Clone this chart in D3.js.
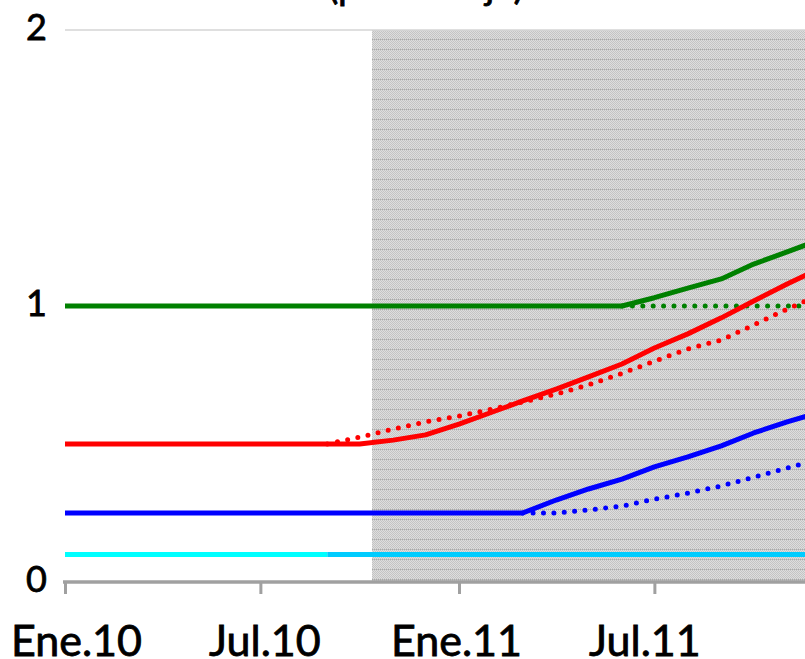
<!DOCTYPE html>
<html>
<head>
<meta charset="utf-8">
<script src="https://cdn.jsdelivr.net/npm/d3@7"></script>
<style>
  body { margin: 0; background: #fff; }
  svg { display: block; font-family: Lato, "Liberation Sans", Arial, sans-serif; }
</style>
</head>
<body>
<div id="chart"></div>
<script>
var w = 805, h = 659;

// Months from Ene.10 (index 0) onward
var months = d3.range(0, 24).map(function(i) { return new Date(2010, i, 1); });
var tickLabels = ["Ene.10", "Jul.10", "Ene.11", "Jul.11"];
var yTicks = [0, 1, 2];

// Series values (percent), one value per month, null = not drawn
var greenSolid = [1, 1, 1, 1, 1, 1, 1, 1, 1, 1, 1, 1, 1, 1, 1, 1, 1, 1,
  1.03, 1.065, 1.098, 1.152, 1.196, 1.24];
var greenDotted = [null, null, null, null, null, null, null, null, null, null, null, null,
  null, null, null, null, null, 1, 1, 1, 1, 1, 1, 1];
var redSolid = [0.5, 0.5, 0.5, 0.5, 0.5, 0.5, 0.5, 0.5, 0.5, 0.5, 0.514, 0.533,
  0.572, 0.616, 0.656, 0.699, 0.743, 0.79, 0.848, 0.899, 0.957, 1.018, 1.08, 1.135];
var redDotted = [null, null, null, null, null, null, null, null, 0.5, 0.525, 0.554, 0.58,
  0.601, 0.627, 0.652, 0.681, 0.714, 0.756, 0.8, 0.844, 0.877, 0.931, 0.989, 1.04];
var blueSolid = [0.25, 0.25, 0.25, 0.25, 0.25, 0.25, 0.25, 0.25, 0.25, 0.25, 0.25, 0.25,
  0.25, 0.25, 0.25, 0.297, 0.337, 0.373, 0.417, 0.453, 0.493, 0.54, 0.58, 0.615];
var blueDotted = [null, null, null, null, null, null, null, null, null, null, null, null,
  null, null, 0.25, 0.25, 0.261, 0.275, 0.3, 0.322, 0.348, 0.38, 0.413, 0.445];
var cyanEarly = [0.1, 0.1, 0.1, 0.1, 0.1, 0.1, 0.1, 0.1, 0.1, null, null, null,
  null, null, null, null, null, null, null, null, null, null, null, null];
var cyanLate = [null, null, null, null, null, null, null, null, 0.1, 0.1, 0.1, 0.1,
  0.1, 0.1, 0.1, 0.1, 0.1, 0.1, 0.1, 0.1, 0.1, 0.1, 0.1, 0.1];

// Start of the shaded (projection) period
var shadeStart = new Date(2010, 9, 12);

var xScale = d3.scaleTime()
  .domain([new Date(2010, 0, 1), new Date(2012, 0, 1)])
  .range([65, 853]);

var yScale = d3.scaleLinear()
  .domain([0, 2])
  .range([582, 30]);

var svg = d3.select("#chart")
  .append("svg")
  .attr("width", w)
  .attr("height", h);

// Dithered grey pattern for the shaded area
var defs = svg.append("defs");
var pat = defs.append("pattern")
  .attr("id", "shade")
  .attr("patternUnits", "userSpaceOnUse")
  .attr("width", 2)
  .attr("height", 10)
  .attr("y", 30);
pat.append("rect").attr("width", 2).attr("height", 10).attr("fill", "#dedede");
d3.range(0, 10).forEach(function(r) {
  pat.append("rect")
    .attr("x", r % 2).attr("y", r)
    .attr("width", 1).attr("height", 1)
    .attr("fill", "#c4c4c4");
});
pat.append("rect").attr("x", 0).attr("y", 9).attr("width", 1).attr("height", 1).attr("fill", "#a8a8a8");

svg.append("rect")
  .attr("x", xScale(shadeStart))
  .attr("y", yScale(2))
  .attr("width", w - xScale(shadeStart))
  .attr("height", yScale(0) - yScale(2))
  .attr("fill", "url(#shade)")
  .attr("shape-rendering", "crispEdges");

// Top border line at 2
svg.append("line")
  .attr("x1", 65).attr("x2", w)
  .attr("y1", yScale(2)).attr("y2", yScale(2))
  .attr("stroke", "#d4d4d4")
  .attr("stroke-width", 1.5);

// Title (cropped at the top)
svg.append("text")
  .attr("x", 426)
  .attr("y", -1)
  .attr("text-anchor", "middle")
  .attr("font-size", 38)
  .attr("stroke", "#000")
  .attr("stroke-width", 0.8)
  .attr("fill", "#000")
  .text("(porcentaje)");

// Y labels
svg.selectAll(".ylab")
  .data(yTicks)
  .enter()
  .append("text")
  .attr("class", "ylab")
  .attr("x", 47)
  .attr("y", function(d) { return yScale(d) - 3; })
  .attr("dy", "0.36em")
  .attr("text-anchor", "end")
  .attr("font-size", 36)
  .attr("stroke", "#000")
  .attr("stroke-width", 0.8)
  .text(function(d) { return d; });

// Lines
var line = d3.line()
  .defined(function(d) { return d.v != null; })
  .x(function(d) { return xScale(d.date); })
  .y(function(d) { return yScale(d.v); });

function toPoints(arr) {
  return arr.map(function(v, i) { return { date: months[i], v: v }; });
}

var series = [
  { values: cyanEarly, color: "#00ffff", dotted: false },
  { values: cyanLate, color: "#00ccff", dotted: false },
  { values: greenDotted, color: "#008000", dotted: true },
  { values: redDotted, color: "#ff0000", dotted: true },
  { values: blueDotted, color: "#0000ff", dotted: true },
  { values: greenSolid, color: "#008000", dotted: false },
  { values: redSolid, color: "#ff0000", dotted: false },
  { values: blueSolid, color: "#0000ff", dotted: false }
];

svg.append("g")
  .selectAll("path")
  .data(series)
  .enter()
  .append("path")
  .attr("d", function(d) { return line(toPoints(d.values)); })
  .attr("fill", "none")
  .attr("stroke", function(d) { return d.color; })
  .attr("stroke-width", 5)
  .attr("stroke-linecap", function(d) { return d.dotted ? "round" : "butt"; })
  .attr("stroke-linejoin", "round")
  .attr("stroke-dasharray", function(d) { return d.dotted ? "0 10.4" : null; });

// X axis
var xAxis = d3.axisBottom()
  .scale(xScale)
  .tickValues(d3.timeMonth.every(6).range(new Date(2010, 0, 1), new Date(2011, 11, 1)))
  .tickSize(12)
  .tickFormat(function(d, i) { return tickLabels[i]; });

var gx = svg.append("g")
  .attr("class", "x_axis")
  .attr("transform", "translate(0, " + yScale(0) + ")")
  .call(xAxis);

gx.select(".domain").remove();
gx.append("line")
  .attr("x1", 63).attr("x2", w)
  .attr("y1", 0).attr("y2", 0)
  .attr("stroke", "#a0a0a0")
  .attr("stroke-width", 3.5);
gx.selectAll(".tick line")
  .attr("stroke", "#a0a0a0")
  .attr("stroke-width", 3);
gx.selectAll(".tick text")
  .attr("fill", "#000")
  .attr("stroke", "#000")
  .attr("stroke-width", 0.8)
  .attr("font-size", 43)
  .attr("font-family", "Lato, 'Liberation Sans', Arial, sans-serif")
  .attr("y", 43)
  .attr("dy", "0.71em")
  .attr("dx", function(d, i) { return 11 - 7 * i; });
</script>
</body>
</html>
